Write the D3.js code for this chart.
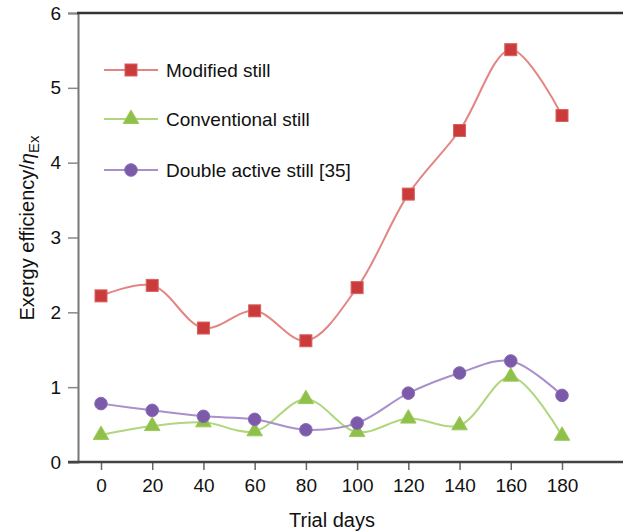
<!DOCTYPE html>
<html>
<head>
<meta charset="utf-8">
<script src="https://cdn.jsdelivr.net/npm/d3@7"></script>
<style>
  html, body { margin: 0; padding: 0; background: #fff; }
  svg { display: block; font-family: "Liberation Sans", Arial, Helvetica, sans-serif; }
</style>
</head>
<body>
<svg id="chart" width="623" height="532"></svg>
<script>
// Trial days (x) and exergy efficiency for each still type
const days = [0, 20, 40, 60, 80, 100, 120, 140, 160, 180];
const modifiedStill = [2.22, 2.36, 1.79, 2.02, 1.62, 2.33, 3.58, 4.43, 5.51, 4.63];
const conventionalStill = [0.36, 0.48, 0.53, 0.41, 0.84, 0.40, 0.58, 0.49, 1.14, 0.35];
const doubleActiveStill = [0.78, 0.69, 0.61, 0.57, 0.43, 0.52, 0.92, 1.19, 1.35, 0.89];
const yTicks = [0, 1, 2, 3, 4, 5, 6];
const seriesNames = ["Modified still", "Conventional still", "Double active still [35]"];

const svg = d3.select("#chart");
const plot = { left: 78, right: 623, top: 13, bottom: 462 };

const x = d3.scaleLinear().domain([0, 180]).range([101, 562]);
const y = d3.scaleLinear().domain([0, 6]).range([plot.bottom, plot.top]);

const series = [
  { name: seriesNames[0], values: modifiedStill, line: "#e38582", fill: "#cc3b3b", stroke: "#d96060", shape: "square" },
  { name: seriesNames[1], values: conventionalStill, line: "#b0d67e", fill: "#8fc04a", stroke: "#9cc95c", shape: "triangle" },
  { name: seriesNames[2], values: doubleActiveStill, line: "#a990cc", fill: "#7c5aaa", stroke: "#8a6bb5", shape: "circle" }
];

// Axes
const yAxis = d3.axisLeft(y).tickValues(yTicks).tickSize(10).tickPadding(7).tickFormat(d3.format("d"));
const gy = svg.append("g").attr("transform", `translate(${plot.left},0)`).call(yAxis);
gy.select(".domain").attr("stroke", "#777").attr("stroke-width", 2);
gy.selectAll(".tick line").attr("stroke", "#888").attr("stroke-width", 1.5);
gy.selectAll(".tick text").attr("font-size", 19).attr("fill", "#111");

const xAxis = d3.axisBottom(x).tickValues(days).tickSize(8).tickPadding(9).tickFormat(d3.format("d"));
const gx = svg.append("g").attr("transform", `translate(0,${plot.bottom})`).call(xAxis);
gx.select(".domain").remove();
gx.selectAll(".tick line").attr("stroke", "#666").attr("stroke-width", 1.5);
gx.selectAll(".tick text").attr("font-size", 19).attr("fill", "#111");

// Bottom axis line and top frame line
svg.append("line").attr("x1", plot.left - 10).attr("x2", plot.right)
  .attr("y1", plot.bottom).attr("y2", plot.bottom).attr("stroke", "#444").attr("stroke-width", 2.5);
svg.append("line").attr("x1", plot.left - 1).attr("x2", plot.right)
  .attr("y1", plot.top).attr("y2", plot.top).attr("stroke", "#333").attr("stroke-width", 2.5);

// Axis titles
svg.append("text").attr("x", 332).attr("y", 527).attr("text-anchor", "middle")
  .attr("font-size", 20).attr("fill", "#111").text("Trial days");

const yt = svg.append("text").attr("transform", "translate(34,228) rotate(-90)")
  .attr("text-anchor", "middle").attr("font-size", 20).attr("fill", "#111");
yt.append("tspan").text("Exergy efficiency/");
yt.append("tspan").attr("font-style", "italic").text("η");
yt.append("tspan").attr("font-size", 15).attr("dy", 5).text("Ex");

// Markers
function drawMarker(g, shape, cx, cy, s) {
  if (shape === "square") {
    g.append("rect").attr("x", cx - 6).attr("y", cy - 6).attr("width", 12).attr("height", 12)
      .attr("fill", s.fill).attr("stroke", s.stroke).attr("stroke-width", 1);
  } else if (shape === "circle") {
    g.append("circle").attr("cx", cx).attr("cy", cy).attr("r", 6.3)
      .attr("fill", s.fill).attr("stroke", s.stroke).attr("stroke-width", 1);
  } else {
    const sym = d3.symbol().type(d3.symbolTriangle).size(105);
    g.append("path").attr("d", sym()).attr("transform", `translate(${cx},${cy})`)
      .attr("fill", s.fill).attr("stroke", s.stroke).attr("stroke-width", 1);
  }
}

const line = d3.line().curve(d3.curveCatmullRom.alpha(0.5))
  .x((d, i) => x(days[i])).y(d => y(d));

// Draw series in back-to-front order
[1, 2, 0].forEach(k => {
  const s = series[k];
  const g = svg.append("g");
  g.append("path").attr("d", line(s.values)).attr("fill", "none")
    .attr("stroke", s.line).attr("stroke-width", 2);
  s.values.forEach((v, i) => drawMarker(g, s.shape, x(days[i]), y(v), s));
});

// Legend
const legendY = [70, 119, 170];
series.forEach((s, k) => {
  const g = svg.append("g");
  g.append("line").attr("x1", 104).attr("x2", 158).attr("y1", legendY[k]).attr("y2", legendY[k])
    .attr("stroke", s.line).attr("stroke-width", 2);
  drawMarker(g, s.shape, 131, legendY[k], s);
  g.append("text").attr("x", 166).attr("y", legendY[k] + 7).attr("font-size", 19)
    .attr("fill", "#111").text(s.name);
});
</script>
</body>
</html>
